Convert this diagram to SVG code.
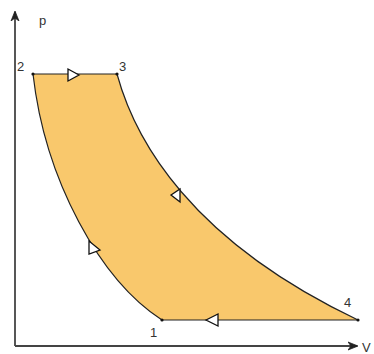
<svg xmlns="http://www.w3.org/2000/svg" width="374" height="354" viewBox="0 0 374 354">
<style>
.lbl{font-family:"Liberation Sans",Arial,sans-serif;font-size:13px;fill:#333}
.axis{stroke:#444;stroke-width:1.8;fill:none}
.edge{stroke:#222;stroke-width:1.2;fill:none}
.arr{fill:#fff;stroke:#111;stroke-width:1.3;stroke-linejoin:miter}
.dot{fill:#111}
</style>
<defs>
<marker id="ah" markerWidth="12" markerHeight="10" refX="9" refY="5" orient="auto" markerUnits="userSpaceOnUse">
<path d="M0,1 L10,5 L0,9 L3,5 Z" fill="#222" stroke="#222" stroke-width="0.8"/>
</marker>
</defs>
<g id="area">
<path d="M33,74 L117,74 C135,140 190,240 358,320 L162,320 C100,280 45,180 33,74 Z" fill="#F9C86C" stroke="none"/>
</g>
<g id="axes">
<line class="axis" x1="15" y1="346" x2="15" y2="12" marker-end="url(#ah)"/>
<line class="axis" x1="15" y1="346" x2="357" y2="346" marker-end="url(#ah)"/>
</g>
<g id="connectors">
<path class="edge" d="M33,74 L117,74"/>
<path class="edge" d="M117,74 C135,140 190,240 358,320"/>
<path class="edge" d="M358,320 L162,320" stroke-width="1.8"/>
<path class="edge" d="M162,320 C100,280 45,180 33,74"/>
<polygon class="arr" points="68,69 68,81 79,75"/>
<polygon class="arr" points="171,195 180,189 180,202"/>
<polygon class="arr" points="89,241 89,254 100,250"/>
<polygon class="arr" points="206,320 218,314 218,326"/>
</g>
<g id="n2"><circle class="dot" cx="33" cy="74" r="1.6"/><text class="lbl" x="17" y="71">2</text></g>
<g id="n3"><circle class="dot" cx="117" cy="74" r="1.6"/><text class="lbl" x="119" y="71">3</text></g>
<g id="n4"><circle class="dot" cx="358" cy="320" r="1.6"/><text class="lbl" x="344" y="307">4</text></g>
<g id="n1"><circle class="dot" cx="162" cy="320" r="1.6"/><text class="lbl" x="150" y="337">1</text></g>
<text class="lbl" x="39" y="25">p</text>
<text class="lbl" x="362" y="352">V</text>
</svg>
